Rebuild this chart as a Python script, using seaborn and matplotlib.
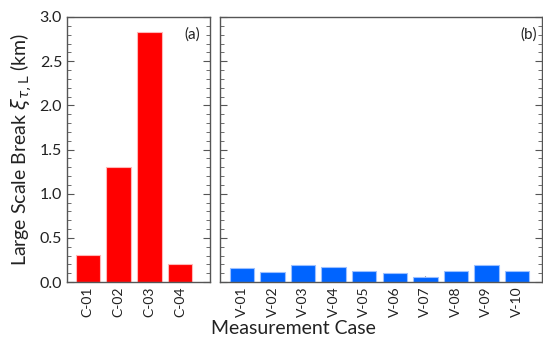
import matplotlib
matplotlib.use("Agg")
import matplotlib.pyplot as plt
import seaborn as sns
import pandas as pd
from matplotlib.ticker import MultipleLocator

c_cases = ["C-01", "C-02", "C-03", "C-04"]
c_values = [0.31, 1.30, 2.83, 0.20]
v_cases = ["V-01", "V-02", "V-03", "V-04", "V-05", "V-06", "V-07", "V-08", "V-09", "V-10"]
v_values = [0.16, 0.11, 0.19, 0.17, 0.12, 0.10, 0.06, 0.12, 0.19, 0.13]

sns.set_style("ticks")
plt.rcParams['font.family'] = ['Lato', 'DejaVu Sans']
plt.rcParams['mathtext.fontset'] = 'dejavusans'

fig = plt.figure(figsize=(5.43, 3.38), dpi=100)
axL = fig.add_axes([67/543, 1-282/338, 143/543, 265/338])
axR = fig.add_axes([220/543, 1-282/338, 322/543, 265/338])

dfc = pd.DataFrame({"case": c_cases, "val": c_values})
dfv = pd.DataFrame({"case": v_cases, "val": v_values})

sns.barplot(data=dfc, x="case", y="val", ax=axL, color="#ff0000", saturation=1,
            width=0.8, edgecolor="#ffb8b8", linewidth=0.8)
sns.barplot(data=dfv, x="case", y="val", ax=axR, color="#0064ff", saturation=1,
            width=0.8, edgecolor="#9cc0ff", linewidth=0.8)

for ax in (axL, axR):
    ax.set_ylim(0, 3.0)
    ax.yaxis.set_major_locator(MultipleLocator(0.5))
    ax.yaxis.set_minor_locator(MultipleLocator(0.1))
    ax.tick_params(axis='both', which='both', direction='in', color='#555555',
                   right=True, labelcolor='#222222')
    ax.tick_params(axis='y', which='major', length=5, labelsize=11.5)
    ax.tick_params(axis='y', which='minor', length=3)
    ax.tick_params(axis='x', which='major', length=4, labelrotation=90, pad=3, labelsize=10)
    for s in ax.spines.values():
        s.set_visible(True)
        s.set_color('#555555')
        s.set_linewidth(1.0)
    ax.set_xlabel("")
    ax.set_ylabel("")

axL.set_xlim(-0.68, 3.98)
axR.set_xlim(-0.72, 9.82)
axR.tick_params(axis='y', labelleft=False)
axL.yaxis.set_major_formatter(matplotlib.ticker.FormatStrFormatter('%.1f'))

axL.set_ylabel(r"Large Scale Break $\xi_{\tau,\mathrm{L}}$ (km)", fontsize=14, color='#222222', labelpad=4)
axL.text(0.93, 0.96, "(a)", transform=axL.transAxes, ha='right', va='top', fontsize=11, color='#222222')
axR.text(0.985, 0.96, "(b)", transform=axR.transAxes, ha='right', va='top', fontsize=11, color='#222222')

fig.text(293/543, 1-329/338, "Measurement Case", ha='center', va='center', fontsize=14, color='#222222')

fig.savefig("out.png", dpi=100)
